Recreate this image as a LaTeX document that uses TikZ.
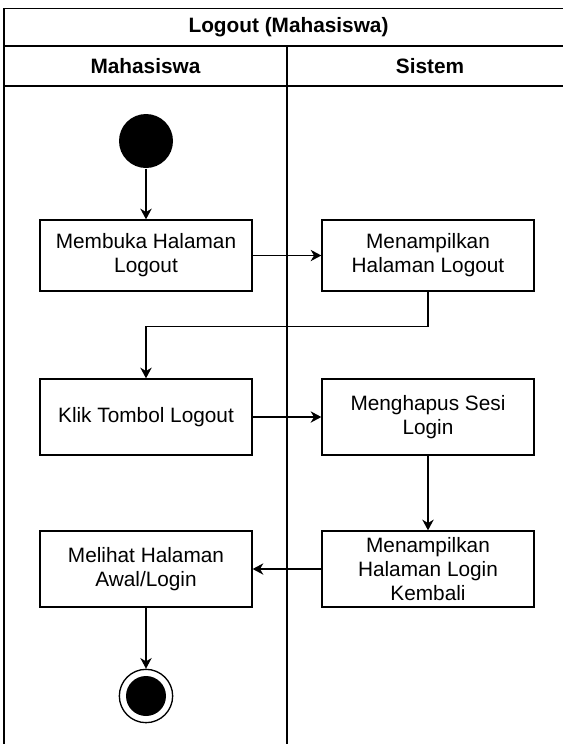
\documentclass[tikz,border=0pt]{standalone}
\usepackage{fontspec}
\setmainfont{Liberation Sans}
\usetikzlibrary{arrows.meta}

\begin{document}
\begin{tikzpicture}[x=0.75pt, y=-0.75pt, line width=1pt,
		act/.style={draw, rectangle, minimum width=159pt, minimum height=53.25pt, align=center, inner sep=2pt},
		actb/.style={act, minimum height=57pt},
		hdr/.style={font=\fontsize{15.6}{18}\selectfont\bfseries},
		flow/.style={-{Stealth[length=8pt, width=8.5pt, inset=2.5pt]}},
		font=\fontsize{15.6}{18}\selectfont]
		\useasboundingbox (0, 0) rectangle (563, 744);

		% swimlanes
		\draw (4, 760) -- (4, 8.6) -- (573, 8.6) -- (573, 760);
		\draw (4, 46) -- (573, 46);
		\draw (4, 86) -- (573, 86);
		\draw (287, 46) -- (287, 760);
		\node[hdr] (title) at (288.5, 27) {Logout (Mahasiswa)};
		\node[hdr] (lanemhs) at (145.5, 66) {Mahasiswa};
		\node[hdr] (lanesis) at (430, 66) {Sistem};

		% activities
		\node[circle, fill, minimum size=40.5pt, inner sep=0pt] (start) at (146, 141) {};
		\node[act] (buka) at (146, 255.5) {Membuka Halaman\\Logout};
		\node[act] (tampil) at (428, 255.5) {Menampilkan\\Halaman Logout};
		\node[actb] (klik) at (146, 417) {Klik Tombol Logout};
		\node[actb] (hapus) at (428, 417) {Menghapus Sesi\\Login};
		\node[actb] (kembali) at (428, 569) {Menampilkan\\Halaman Login\\Kembali};
		\node[actb] (lihat) at (146, 569) {Melihat Halaman\\Awal/Login};
		\node[circle, draw, minimum size=40pt, inner sep=0pt,
			path picture={\fill (path picture bounding box.center) circle (15pt);}] (stop) at (146, 696) {};

		\draw[flow] (start) -- (buka);
		\draw[flow] (buka) -- (tampil);
		\draw[flow] (tampil.south) -- ++(0, 35) -| (klik.north);
		\draw[flow] (klik) -- (hapus);
		\draw[flow] (hapus) -- (kembali);
		\draw[flow] (kembali) -- (lihat);
		\draw[flow] (lihat) -- (stop);
	\end{tikzpicture}
\end{document}
